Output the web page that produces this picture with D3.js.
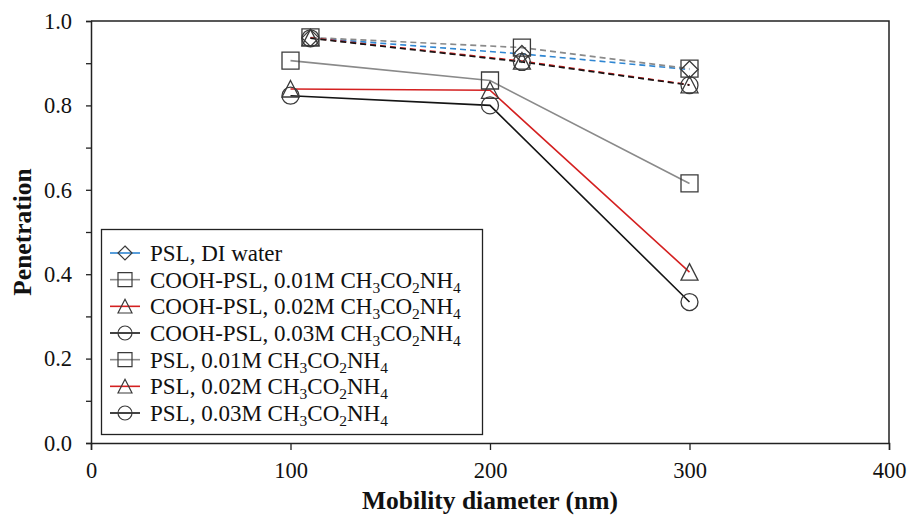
<!DOCTYPE html>
<html>
<head>
<meta charset="utf-8">
<script src="https://cdn.jsdelivr.net/npm/d3@7"></script>
<style>
  html, body { margin: 0; padding: 0; background: #fff; }
</style>
</head>
<body>
<svg id="chart" width="917" height="517"></svg>
<script>
// Mobility diameters (nm)
const xCOOH = [110, 216, 300];
const xPSL = [100, 200, 300];

// Penetration values
const diWater  = [0.960, 0.922, 0.885];
const cooh001  = [0.961, 0.937, 0.887];
const cooh002  = [0.960, 0.905, 0.849];
const cooh003  = [0.959, 0.903, 0.848];
const psl001   = [0.906, 0.859, 0.615];
const psl002   = [0.839, 0.836, 0.405];
const psl003   = [0.823, 0.800, 0.334];

// Legend labels; "_" marks a one-character subscript
const labels = [
  "PSL, DI water",
  "COOH-PSL, 0.01M CH_3CO_2NH_4",
  "COOH-PSL, 0.02M CH_3CO_2NH_4",
  "COOH-PSL, 0.03M CH_3CO_2NH_4",
  "PSL, 0.01M CH_3CO_2NH_4",
  "PSL, 0.02M CH_3CO_2NH_4",
  "PSL, 0.03M CH_3CO_2NH_4"
];

const xTicks = [0, 100, 200, 300, 400];
const yTicks = [0, 0.2, 0.4, 0.6, 0.8, 1.0];
const yMinorTicks = [0.1, 0.3, 0.5, 0.7, 0.9];

const series = [
  { label: labels[0], x: xCOOH, y: diWater, color: "#2f86d2", marker: "diamond", dashed: true },
  { label: labels[1], x: xCOOH, y: cooh001, color: "#8a8a8a", marker: "square",  dashed: true },
  { label: labels[2], x: xCOOH, y: cooh002, color: "#d42020", marker: "triangle", dashed: true },
  { label: labels[3], x: xCOOH, y: cooh003, color: "#141414", marker: "circle",  dashed: true },
  { label: labels[4], x: xPSL,  y: psl001,  color: "#8a8a8a", marker: "square",  dashed: false },
  { label: labels[5], x: xPSL,  y: psl002,  color: "#d42020", marker: "triangle", dashed: false },
  { label: labels[6], x: xPSL,  y: psl003,  color: "#141414", marker: "circle",  dashed: false }
];

const FONT = "Liberation Serif, Tinos, Times New Roman, DejaVu Serif, serif";

const svg = d3.select("#chart").attr("font-family", FONT);
const plotLeft = 91, plotRight = 889, plotTop = 21, plotBottom = 443;

const x = d3.scaleLinear().domain([0, 400]).range([plotLeft, plotRight]);
const y = d3.scaleLinear().domain([0, 1]).range([plotBottom, plotTop]);

const markerStroke = "#3a3a3a";

function markerPath(type, s) {
  const h = s / 2;
  if (type === "square") return `M${-h},${-h}H${h}V${h}H${-h}Z`;
  if (type === "diamond") return `M0,${-h}L${h},0L0,${h}L${-h},0Z`;
  if (type === "triangle") return `M0,${-h}L${h},${h * 0.95}L${-h},${h * 0.95}Z`;
  // circle
  return `M${h},0A${h},${h} 0 1,1 ${-h},0A${h},${h} 0 1,1 ${h},0Z`;
}

// Frame (top and right edges)
svg.append("path")
  .attr("d", `M${plotLeft},${plotTop}H${plotRight}V${plotBottom}`)
  .attr("fill", "none").attr("stroke", "#222").attr("stroke-width", 1.5);

// Axes
const axisFont = g => {
  g.attr("font-family", FONT);
  g.selectAll("text").attr("font-family", FONT).attr("font-size", 22.5).attr("fill", "#111");
};

const gx = svg.append("g").attr("transform", `translate(0,${plotBottom})`)
  .call(d3.axisBottom(x).tickValues(xTicks).tickFormat(d3.format("d")).tickSize(7).tickPadding(12))
  .call(axisFont);
const gy = svg.append("g").attr("transform", `translate(${plotLeft},0)`)
  .call(d3.axisLeft(y).tickValues(yTicks).tickFormat(d3.format(".1f")).tickSize(5).tickPadding(14))
  .call(axisFont);
const gyMinor = svg.append("g").attr("transform", `translate(${plotLeft},0)`)
  .call(d3.axisLeft(y).tickValues(yMinorTicks).tickFormat("").tickSize(5));

[gx, gy, gyMinor].forEach(g => {
  g.select(".domain").attr("stroke", "#222").attr("stroke-width", 1.5);
  g.selectAll(".tick line").attr("stroke", "#222").attr("stroke-width", 1.3);
});
gyMinor.select(".domain").remove();

// Axis titles
svg.append("text")
  .attr("x", (plotLeft + plotRight) / 2).attr("y", 509)
  .attr("text-anchor", "middle").attr("font-family", FONT)
  .attr("font-size", 25.5).attr("font-weight", "bold").attr("fill", "#111")
  .text("Mobility diameter (nm)");
svg.append("text")
  .attr("transform", `translate(31,${(plotTop + plotBottom) / 2}) rotate(-90)`)
  .attr("text-anchor", "middle").attr("font-family", FONT)
  .attr("font-size", 25.5).attr("font-weight", "bold").attr("fill", "#111")
  .text("Penetration");

// Series lines
const line = d3.line().x(d => x(d[0])).y(d => y(d[1]));
const plot = svg.append("g");
series.forEach(s => {
  const pts = s.x.map((v, i) => [v, s.y[i]]);
  plot.append("path")
    .datum(pts)
    .attr("d", line)
    .attr("fill", "none")
    .attr("stroke", s.color)
    .attr("stroke-width", 1.6)
    .attr("stroke-dasharray", s.dashed ? "6,4" : null);
});

// Series markers (open symbols)
series.forEach(s => {
  plot.append("g").selectAll("path")
    .data(s.x.map((v, i) => [v, s.y[i]]))
    .join("path")
    .attr("transform", d => `translate(${x(d[0])},${y(d[1])})`)
    .attr("d", markerPath(s.marker, 17))
    .attr("fill", "none")
    .attr("stroke", markerStroke)
    .attr("stroke-width", 1.3);
});

// Legend
const lg = svg.append("g");
lg.append("rect")
  .attr("x", 101.5).attr("y", 229.5).attr("width", 381).attr("height", 205)
  .attr("fill", "#fff").attr("stroke", "#222").attr("stroke-width", 1.3);

const rowY = d3.scalePoint().domain(d3.range(series.length)).range([253, 413]);

series.forEach((s, i) => {
  const cy = rowY(i);
  lg.append("line")
    .attr("x1", 110).attr("x2", 140).attr("y1", cy).attr("y2", cy)
    .attr("stroke", s.color).attr("stroke-width", 1.6);
  lg.append("path")
    .attr("transform", `translate(125,${cy})`)
    .attr("d", markerPath(s.marker, 14))
    .attr("fill", "none").attr("stroke", markerStroke).attr("stroke-width", 1.2);

  const t = lg.append("text")
    .attr("x", 150).attr("y", cy + 8).attr("font-family", FONT)
    .attr("font-size", 23).attr("fill", "#111");
  // split label into normal runs and subscripts
  const parts = s.label.split(/_(.)/);
  parts.forEach((p, k) => {
    if (!p) return;
    if (k % 2 === 1) {
      t.append("tspan").attr("font-size", 15.5).attr("dy", 5).text(p);
    } else {
      t.append("tspan").attr("dy", k > 0 ? -5 : 0).text(p);
    }
  });
});
</script>
</body>
</html>
